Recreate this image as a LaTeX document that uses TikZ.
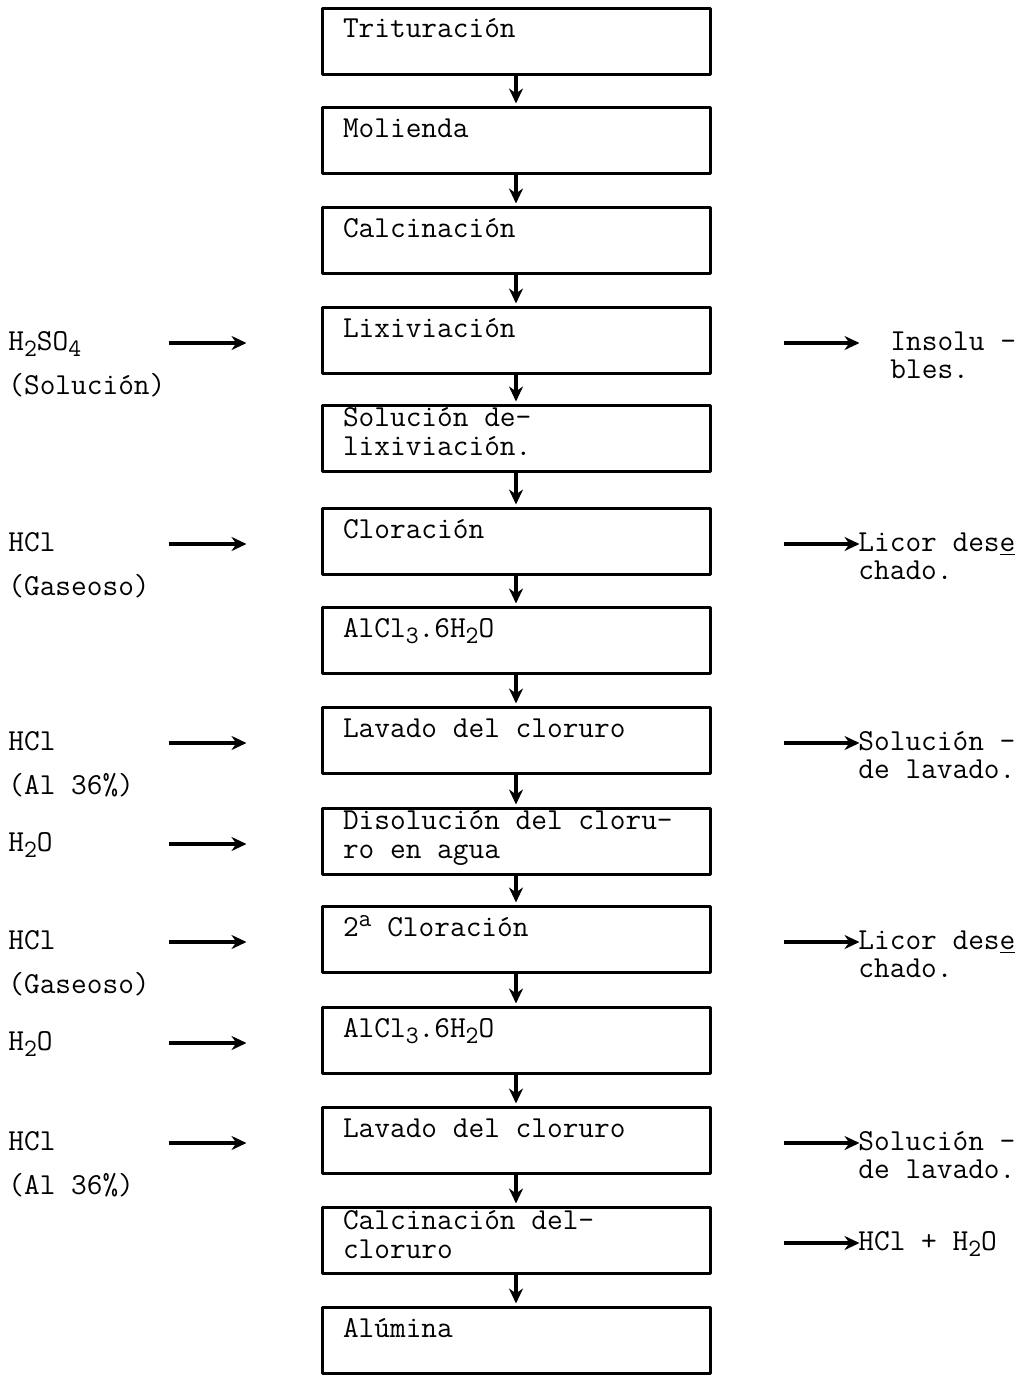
\documentclass[tikz,border=0pt]{standalone}
\usepackage{fontspec}
\usetikzlibrary{arrows.meta}
\newdimen\pix \pix=0.5pt
\newcommand{\bajo}[1]{{\fontsize{12.5pt}{12pt}\selectfont\raisebox{-0.6ex}{#1}}}
\newcommand{\alto}[1]{{\fontsize{12.5pt}{12pt}\selectfont\raisebox{0.9ex}{#1}}}
\newcommand{\paso}[2][27]{\parbox[t][60\pix][t]{346\pix}{\rule{0pt}{#1\pix}#2}}
\newcommand{\lineas}[1]{\begin{tabular}[t]{@{}l@{}}#1\end{tabular}}
\begin{document}
\begin{tikzpicture}[x=0.5pt,y=-0.5pt,line join=round,>={Stealth[length=7.5pt,width=7pt]}]
	\tikzset{caja/.style={draw,line width=1.5pt,minimum width=388\pix,minimum height=66\pix,inner sep=0pt,font=\fontsize{15.24pt}{14.5pt}\selectfont\ttfamily},
		ent/.style={anchor=base west,inner sep=0pt,font=\fontsize{15.24pt}{22pt}\selectfont\ttfamily},
		sal/.style={anchor=base west,inner sep=0pt,font=\fontsize{15.24pt}{14pt}\selectfont\ttfamily},
		flecha/.style={->,line width=2pt}}
	\useasboundingbox (0,0) rectangle (1028,1376);
	\node[caja] (b1) at (516,41) {\paso{Trituración}};
	\node[caja] (b2) at (516,140) {\paso{Molienda}};
	\node[caja] (b3) at (516,240) {\paso{Calcinación}};
	\node[caja] (b4) at (516,340) {\paso{Lixiviación}};
	\node[caja] (b5) at (516,438) {\paso[18]{Solución de-\\lixiviación.}};
	\node[caja] (b6) at (516,541) {\paso{Cloración}};
	\node[caja] (b7) at (516,640) {\paso{AlCl\bajo{3}.6H\bajo{2}O}};
	\node[caja] (b8) at (516,740) {\paso{Lavado del cloruro}};
	\node[caja] (b9) at (516,841) {\paso[18]{Disolución del cloru-\\ro en agua}};
	\node[caja] (b10) at (516,939) {\paso{2\alto{a} Cloración}};
	\node[caja] (b11) at (516,1040) {\paso{AlCl\bajo{3}.6H\bajo{2}O}};
	\node[caja] (b12) at (516,1140) {\paso{Lavado del cloruro}};
	\node[caja] (b13) at (516,1240) {\paso[18]{Calcinación del-\\cloruro}};
	\node[caja] (b14) at (516,1340) {\paso{Alúmina}};
	\foreach \a/\b in {b1/b2,b2/b3,b3/b4,b4/b5,b5/b6,b6/b7,b7/b8,b8/b9,b9/b10,b10/b11,b11/b12,b12/b13,b13/b14}
	\draw[flecha,shorten >=2\pix] (\a) -- (\b);
	\foreach \b/\t in {b4/{H\bajo{2}SO\bajo{4}\\(Solución)}, b6/{HCl\\(Gaseoso)}, b8/{HCl\\(Al 36\%)}, b9/{H\bajo{2}O}, b10/{HCl\\(Gaseoso)}, b11/{H\bajo{2}O}, b12/{HCl\\(Al 36\%)}}{
		\draw[flecha] ([xshift=-152\pix,yshift=-1.5pt]\b.west) -- ++(78,0);
		\node[ent,yshift=-5pt] (e\b) at (\b.west -| 8,0) {\lineas{\t}};
	}
	\foreach \b/\x/\t in {b4/890/{Insolu -\\bles.}, b6/858/{Licor des\underline{e}\\chado.}, b8/858/{Solución -\\de lavado.}, b10/858/{Licor des\underline{e}\\chado.}, b12/858/{Solución -\\de lavado.}, b13/858/{HCl + H\bajo{2}O}}{
		\draw[flecha] ([xshift=72\pix,yshift=-1.5pt]\b.east) -- ++(76,0);
		\node[sal,yshift=-5pt] (s\b) at (\b.east -| \x,0) {\lineas{\t}};
	}
\end{tikzpicture}
\end{document}
